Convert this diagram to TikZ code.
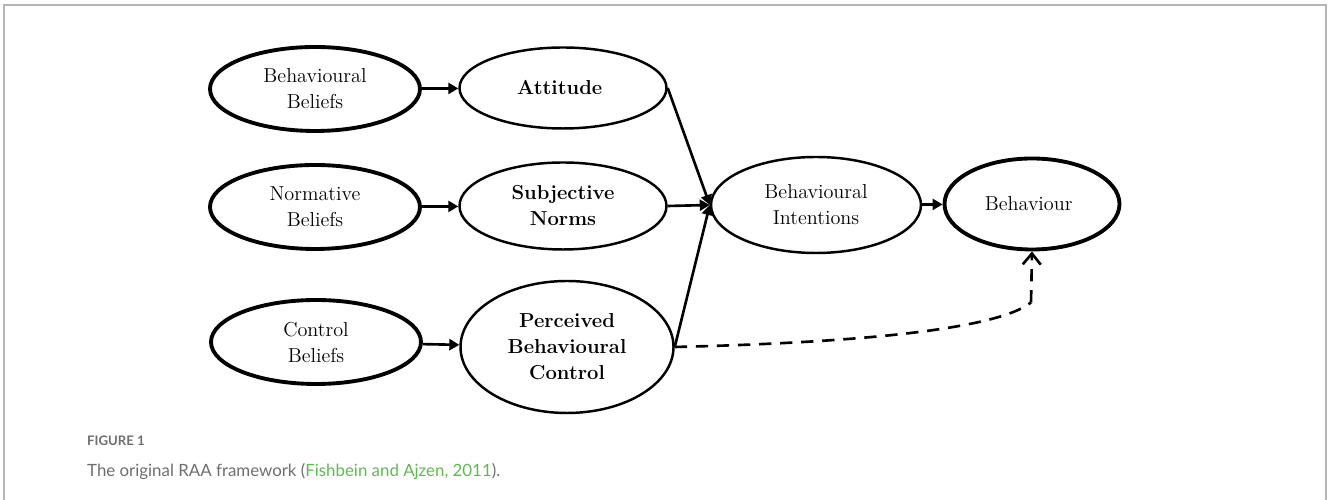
\documentclass[tikz,border=0pt]{standalone}
\usepackage{fontspec}
\setsansfont{Lato}
\usetikzlibrary{arrows.meta,shapes.geometric}
\definecolor{framegray}{HTML}{B4B4B4}
\definecolor{capgray}{HTML}{6D6E71}
\definecolor{citegreen}{HTML}{5DBB4E}
\tikzset{
	belief/.style={shape=ellipse, draw, line width=2.2pt, align=center, inner sep=0pt,
		minimum width=4.2cm, minimum height=1.68cm, font=\fontsize{11.5}{14.8}\selectfont},
	construct/.style={shape=ellipse, draw, line width=1.4pt, align=center, inner sep=0pt,
		font=\fontsize{11.5}{14.8}\selectfont},
	link/.style={line width=1.5pt, -{Triangle[length=0.2cm,width=0.22cm]}}
}
\begin{document}
\begin{tikzpicture}
			\useasboundingbox (0,0) rectangle (26.56,10);
			\draw[framegray, line width=0.9pt] (0.08,0) -- (0.08,9.9) -- (26.52,9.9) -- (26.52,0);

			\node (e1)[belief] 
			at (6.30,8.22){
				Behavioural \\ Beliefs
			}; 

			\node (e2)[construct, minimum width=4.14cm, minimum height=1.62cm] 
			at (11.26,8.24){
				\textbf{Attitude}
			}; 

			\node (e3)[belief] 
			at (6.30,5.86){
				Normative \\ Beliefs
			}; 

			\node (e4)[construct, minimum width=4.14cm, minimum height=1.74cm] 
			at (11.26,5.88){
				\textbf{Subjective} \\ \textbf{Norms}
			}; 

			\node (e5)[belief] 
			at (6.32,3.16){
				Control \\ Beliefs
			}; 

			\node (e6)[construct, minimum width=4.26cm, minimum height=2.64cm] 
			at (11.34,3.06){
				\textbf{Perceived} \\ \textbf{Behavioural} \\ \textbf{Control}
			}; 

			\node (e7)[construct, minimum width=4.2cm, minimum height=1.92cm] 
			at (16.32,5.90){
				Behavioural \\ Intentions
			}; 

			\node (e8)[belief, minimum width=3.5cm, minimum height=1.82cm] 
			at (20.64,5.92){
				Behaviour
			}; 

			\coordinate (k1) at (20.62,3.95);

			\path[link] (e1) edge (e2);
			\path[link] (e3) edge (e4);
			\path[link] (e5) edge (e6);
			\path[link] (e2.east) edge (e7.west);
			\path[link] (e4.east) edge (e7.west);
			\path[link] (e6.east) edge (e7.west);
			\path[link] (e7) edge (e8);
			\draw[line width=1.5pt, dash pattern=on 7pt off 5pt] (e6.east) .. controls (16,3.12) and (19.8,3.3) .. (k1);
			\draw[line width=1.5pt, dash pattern=on 7pt off 5pt, -{Straight Barb[length=0.22cm,width=0.36cm]}] (k1) -- (e8.south);

			\node (f1)[anchor=base west, text=capgray, font=\sffamily\bfseries\fontsize{7.5}{9}\selectfont] 
			at (1.62,1.08){FIGURE 1};
			\node (f2)[anchor=base west, text=capgray, font=\sffamily\fontsize{9.6}{12}\selectfont] 
			at (1.62,0.46){The original RAA framework (\textcolor{citegreen}{Fishbein and Ajzen, 2011}).};
		\end{tikzpicture}
\end{document}
